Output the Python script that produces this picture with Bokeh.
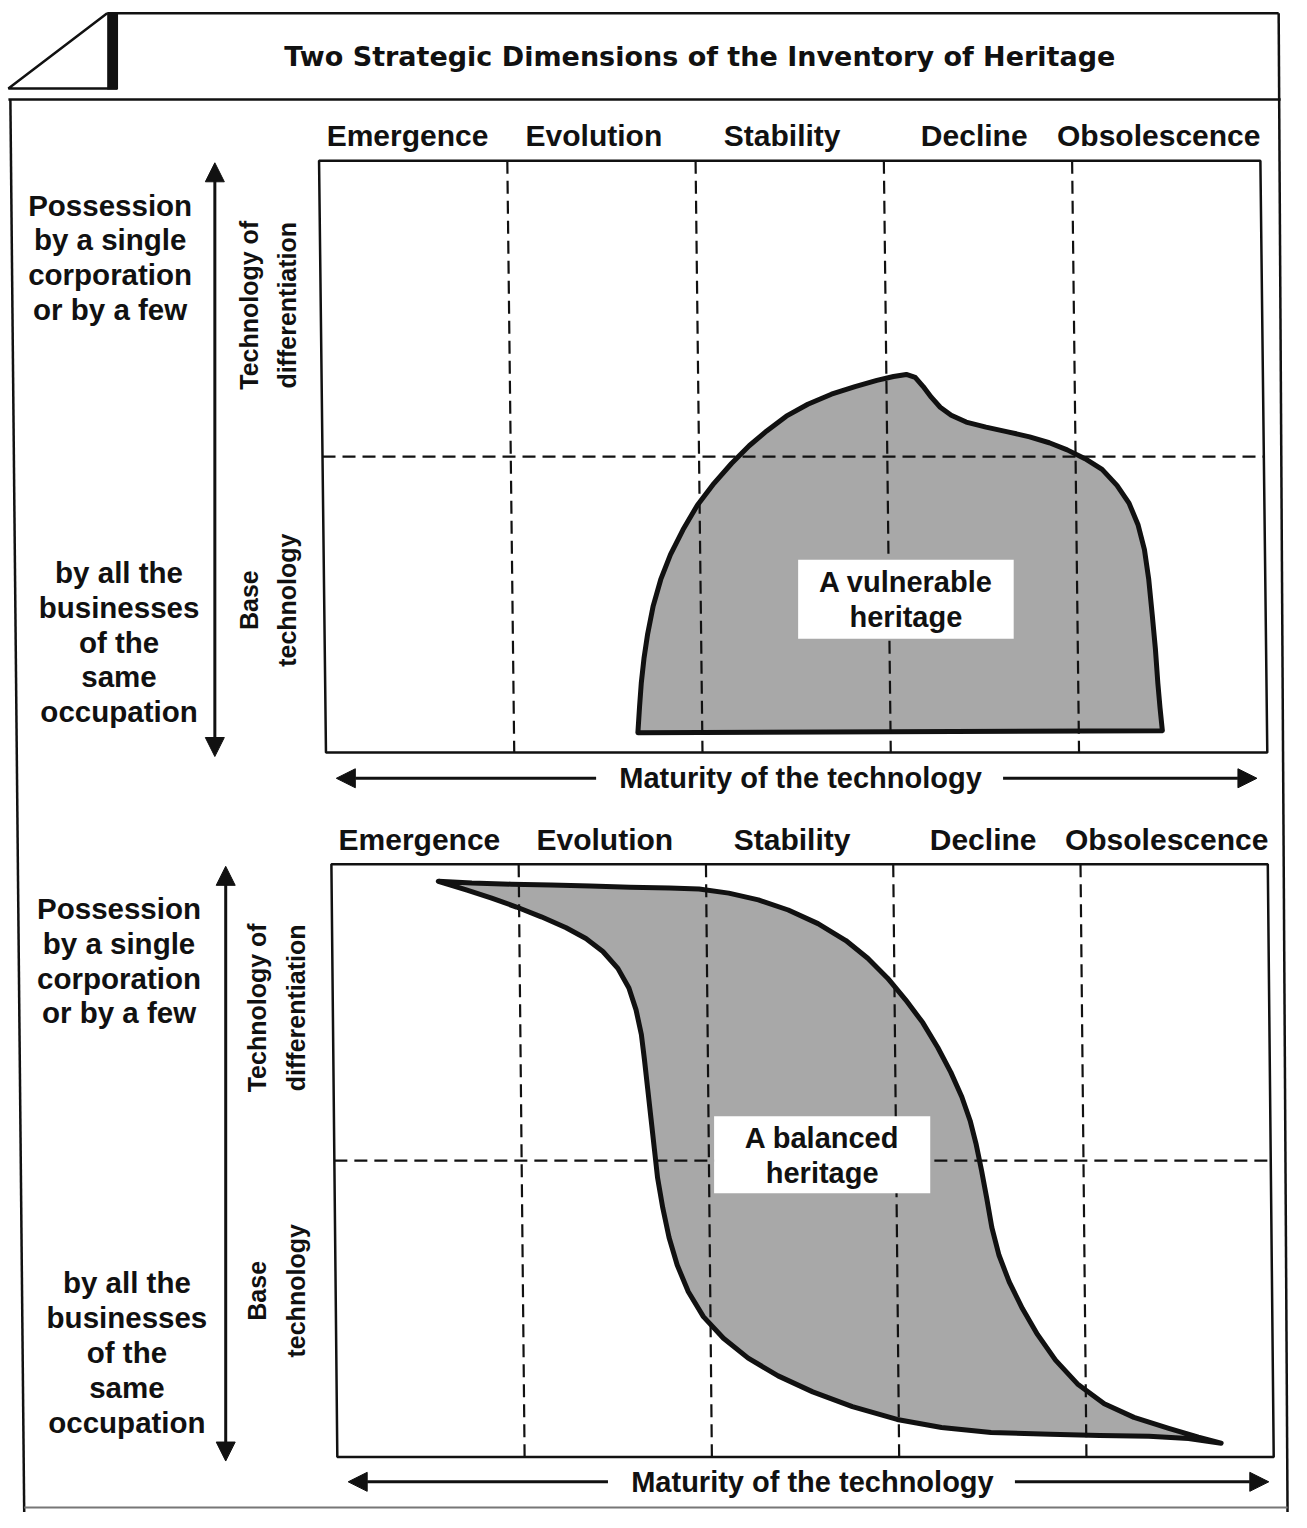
import math
from bokeh.plotting import figure
from bokeh.models import Range1d, Arrow, NormalHead
from bokeh.core.properties import value
from bokeh.embed import file_html
from bokeh.resources import INLINE

# ---------------- data ----------------
title_text = "Two Strategic Dimensions of the Inventory of Heritage"
stages = ["Emergence", "Evolution", "Stability", "Decline", "Obsolescence"]
stage_label_pos = [0.47, 1.46, 2.46, 3.48, 4.46]   # maturity units (0..5)
stage_bounds = [1, 2, 3, 4]                        # dashed verticals
level_split = [1]                                  # dashed horizontal (levels 0..2)
upper_label = ["Possession", "by a single", "corporation", "or by a few"]
lower_label = ["by all the", "businesses", "of the", "same", "occupation"]
upper_axis = ["Technology of", "differentiation"]
lower_axis = ["Base", "technology"]
x_axis_label = "Maturity of the technology"

# "A vulnerable heritage" outline (maturity 0..5, level 0..2)
vuln_m = [1.658, 1.668, 1.679, 1.695, 1.716, 1.747, 1.789, 1.842, 1.910, 1.988,
          2.078, 2.172, 2.267, 2.361, 2.466, 2.581, 2.707, 2.833, 2.949, 3.038,
          3.106, 3.153, 3.195, 3.237, 3.284, 3.342, 3.421, 3.526, 3.641, 3.757,
          3.861, 3.956, 4.050, 4.140, 4.218, 4.281, 4.328, 4.360, 4.381, 4.397,
          4.412, 4.423, 4.433, 4.444]
vuln_l = [0.067, 0.151, 0.234, 0.318, 0.401, 0.495, 0.585, 0.669, 0.753, 0.836,
          0.910, 0.977, 1.037, 1.087, 1.137, 1.177, 1.211, 1.237, 1.258, 1.271,
          1.278, 1.268, 1.237, 1.201, 1.167, 1.140, 1.117, 1.100, 1.084, 1.067,
          1.047, 1.023, 0.993, 0.957, 0.903, 0.843, 0.769, 0.686, 0.585, 0.468,
          0.351, 0.234, 0.151, 0.074]
vuln_box = dict(m0=2.52, m1=3.66, l0=0.385, l1=0.652)
vuln_text = ["A vulnerable", "heritage"]

# "A balanced heritage" outline: upper edge left->right, then lower edge right->left
bal_m = [0.570, 0.749, 0.960, 1.171, 1.382, 1.593, 1.804, 1.962, 2.120, 2.278,
         2.437, 2.595, 2.743, 2.859, 2.964, 3.059, 3.149, 3.228, 3.296, 3.354,
         3.397, 3.428, 3.455, 3.481, 3.507, 3.544, 3.597, 3.666, 3.745, 3.840,
         3.956, 4.098, 4.256, 4.441, 4.599, 4.720,
         4.546, 4.335, 4.072, 3.808, 3.492, 3.228, 2.991, 2.753, 2.542, 2.358,
         2.199, 2.068, 1.962, 1.883, 1.825, 1.783, 1.751, 1.725, 1.709, 1.693,
         1.677, 1.661, 1.646, 1.619, 1.582, 1.524, 1.445, 1.355, 1.250, 1.118,
         0.986, 0.854, 0.723]
bal_l = [1.943, 1.937, 1.933, 1.930, 1.927, 1.923, 1.920, 1.917, 1.903, 1.880,
         1.846, 1.800, 1.743, 1.683, 1.616, 1.543, 1.466, 1.382, 1.299, 1.215,
         1.135, 1.055, 0.968, 0.875, 0.775, 0.681, 0.591, 0.501, 0.414, 0.327,
         0.247, 0.180, 0.134, 0.097, 0.067, 0.047,
         0.063, 0.070, 0.073, 0.077, 0.083, 0.100, 0.127, 0.170, 0.220, 0.274,
         0.334, 0.401, 0.474, 0.558, 0.648, 0.741, 0.841, 0.942, 1.042, 1.142,
         1.242, 1.342, 1.426, 1.509, 1.583, 1.649, 1.706, 1.750, 1.786, 1.823,
         1.856, 1.886, 1.913]
bal_box = dict(m0=2.03, m1=3.18, l0=0.89, l1=1.15)
bal_text = ["A balanced", "heritage"]

# ---------------- layout (reference pixel coordinates, y downwards) ----------------
IMG_W, IMG_H = 1307, 1528
W, H = 1291, 1512

panels = [
    dict(left=326, right=1279, top=162, bottom=760, shear=7, head_y=136,
         up_x=-215, low_x=-206, up_y0=45, low_y0=416, arr_x=-109,
         rot_x=(-74, -36), rot_up_c=146, rot_low_c=444, mat_dy=26,
         shape_m=vuln_m, shape_l=vuln_l, box=vuln_box, box_text=vuln_text),
    dict(left=338, right=1286, top=873, bottom=1472, shear=6, head_y=848,
         up_x=-218, low_x=-210, up_y0=45, low_y0=423, arr_x=-110,
         rot_x=(-78, -39), rot_up_c=145, rot_low_c=431, mat_dy=25,
         shape_m=bal_m, shape_l=bal_l, box=bal_box, box_text=bal_text),
]

FONT = value("Liberation Sans")
TFONT = value("DejaVu Sans")
INK = "#111111"
FILL = "#a8a8a8"


def Y(v):
    return IMG_H - v


def to_px(P, m, l):
    w = P["right"] - P["left"]
    h = P["bottom"] - P["top"]
    yi = P["bottom"] - l / 2.0 * h
    xi = P["left"] + m / 5.0 * w + P["shear"] * ((yi - P["top"]) / h - 0.5)
    return xi, Y(yi)


p = figure(width=W, height=H, x_range=Range1d(0, IMG_W), y_range=Range1d(0, IMG_H),
           x_axis_location=None, y_axis_location=None, toolbar_location=None,
           output_backend="svg", min_border=0)
p.grid.visible = False
p.outline_line_color = None
p.background_fill_color = "white"
p.border_fill_color = "white"

# ---------------- outer frame ----------------
p.line([108, 1294], [Y(13), Y(13)], line_color=INK, line_width=2.5)
p.line([108, 8, 118], [Y(13), Y(89), Y(89)], line_color=INK, line_width=2.5)
p.quad(left=[108], right=[119], top=[Y(13)], bottom=[Y(90)], fill_color=INK, line_color=None)
p.line([8, 1296], [Y(100), Y(100)], line_color=INK, line_width=2.5)
p.line([10, 24], [Y(100), Y(1528)], line_color=INK, line_width=2.5)
p.line([1294, 1303], [Y(13), Y(1528)], line_color=INK, line_width=2.5)
p.line([24, 1303], [Y(1523), Y(1523)], line_color="#777777", line_width=2)

p.text(x=[708], y=[Y(57)], text=[title_text], text_font=TFONT, text_font_style="bold",
       text_font_size="27px", text_align="center", text_baseline="middle", text_color=INK)

for P in panels:
    # panel box
    bx, by = zip(*[to_px(P, 0, 2), to_px(P, 5, 2), to_px(P, 5, 0), to_px(P, 0, 0)])
    p.patch(list(bx), list(by), fill_color="white", line_color=INK, line_width=2.5)

    # shape
    sx, sy = zip(*[to_px(P, m, l) for m, l in zip(P["shape_m"], P["shape_l"])])
    p.patch(list(sx), list(sy), fill_color=FILL, line_color=INK, line_width=5,
            line_join="round")

    # dashed grid
    x0s, y0s, x1s, y1s = [], [], [], []
    for b in stage_bounds:
        a, c = to_px(P, b, 2), to_px(P, b, 0)
        x0s.append(a[0]); y0s.append(a[1]); x1s.append(c[0]); y1s.append(c[1])
    for s in level_split:
        a, c = to_px(P, 0, s), to_px(P, 5, s)
        x0s.append(a[0]); y0s.append(a[1]); x1s.append(c[0]); y1s.append(c[1])
    p.segment(x0=x0s, y0=y0s, x1=x1s, y1=y1s, line_color=INK, line_width=2.2,
              line_dash="13 7")

    # label box
    B = P["box"]
    (lx, ty), (rx, byy) = to_px(P, B["m0"], B["l1"]), to_px(P, B["m1"], B["l0"])
    p.quad(left=[lx], right=[rx], top=[ty], bottom=[byy], fill_color="white", line_color=None)
    cx = (lx + rx) / 2
    cy = (ty + byy) / 2
    p.text(x=[cx, cx], y=[cy + 17, cy - 18], text=P["box_text"], text_font=FONT,
           text_font_style="bold", text_font_size="29px", text_align="center",
           text_baseline="middle", text_color=INK)

    # stage headers
    hx = [to_px(P, m, 2)[0] for m in stage_label_pos]
    p.text(x=hx, y=[Y(P["head_y"])] * len(stages), text=stages, text_font=FONT,
           text_font_style="bold", text_font_size="30px", text_align="center",
           text_baseline="middle", text_color=INK)

    # left descriptive labels
    L = P["left"]; T = P["top"]; Bt = P["bottom"]
    p.text(x=[L + P["up_x"]] * len(upper_label),
           y=[Y(T + P["up_y0"] + 35 * i) for i in range(len(upper_label))],
           text=upper_label, text_font=FONT, text_font_style="bold",
           text_font_size="29.5px", text_align="center", text_baseline="middle",
           text_color=INK)
    p.text(x=[L + P["low_x"]] * len(lower_label),
           y=[Y(T + P["low_y0"] + 35.2 * i) for i in range(len(lower_label))],
           text=lower_label, text_font=FONT, text_font_style="bold",
           text_font_size="29.5px", text_align="center", text_baseline="middle",
           text_color=INK)

    # vertical double arrow
    ax = L + P["arr_x"]
    head = dict(size=19, fill_color=INK, line_color=INK)
    p.add_layout(Arrow(x_start=ax, y_start=Y(T + 20), x_end=ax, y_end=Y(T + 2),
                       line_width=3, line_color=INK, end=NormalHead(**head)))
    p.add_layout(Arrow(x_start=ax, y_start=Y(T + 20), x_end=ax, y_end=Y(Bt + 4),
                       line_width=3, line_color=INK, end=NormalHead(**head)))

    # rotated axis labels
    rx0, rx1 = P["rot_x"]
    p.text(x=[L + rx0, L + rx1], y=[Y(T + P["rot_up_c"])] * 2, text=upper_axis,
           angle=math.pi / 2, text_font=FONT, text_font_style="bold",
           text_font_size="25px", text_align="center", text_baseline="middle",
           text_color=INK)
    p.text(x=[L + rx0, L + rx1], y=[Y(T + P["rot_low_c"])] * 2, text=lower_axis,
           angle=math.pi / 2, text_font=FONT, text_font_style="bold",
           text_font_size="25px", text_align="center", text_baseline="middle",
           text_color=INK)

    # maturity arrows
    my = Y(Bt + P["mat_dy"])
    p.add_layout(Arrow(x_start=L + 277, y_start=my, x_end=L + 14, y_end=my,
                       line_width=3, line_color=INK, end=NormalHead(**head)))
    p.add_layout(Arrow(x_start=L + 689, y_start=my, x_end=L + 946, y_end=my,
                       line_width=3, line_color=INK, end=NormalHead(**head)))
    p.text(x=[L + 484], y=[my], text=[x_axis_label], text_font=FONT,
           text_font_style="bold", text_font_size="29px", text_align="center",
           text_baseline="middle", text_color=INK)

open("out.html", "w").write(file_html(p, INLINE))
